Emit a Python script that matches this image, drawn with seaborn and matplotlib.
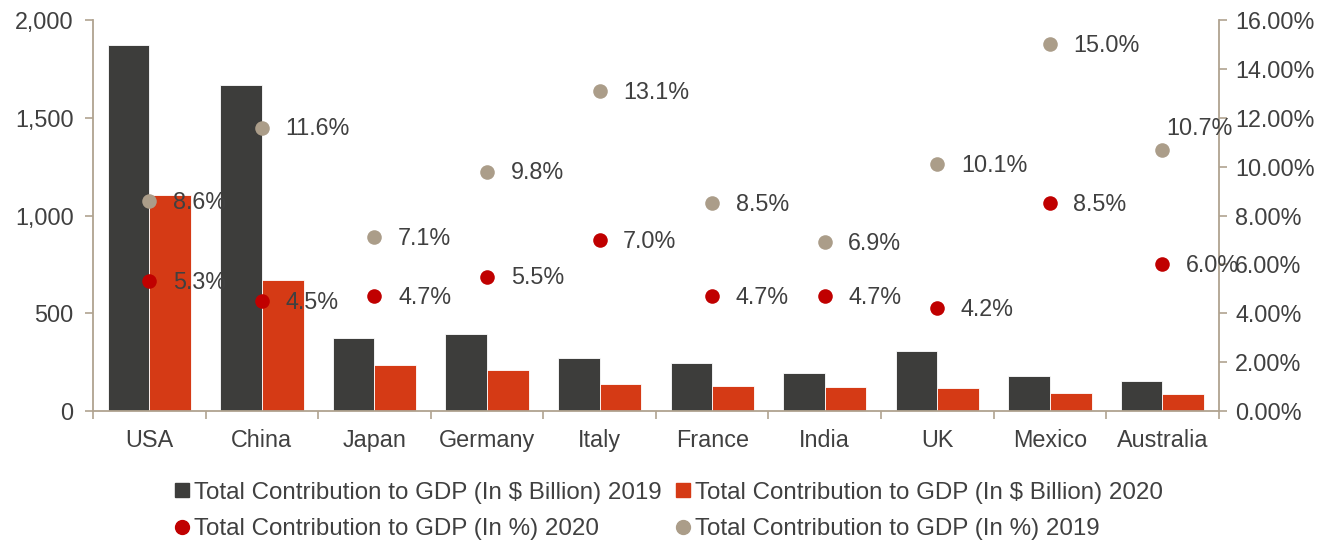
import numpy as np
import pandas as pd
import matplotlib
matplotlib.use("Agg")
import matplotlib.pyplot as plt
from matplotlib.ticker import FuncFormatter, FixedLocator
from matplotlib.lines import Line2D
import seaborn as sns

countries = ["USA", "China", "Japan", "Germany", "Italy", "France", "India", "UK", "Mexico", "Australia"]
gdp_2019 = [1872, 1667, 373, 394, 271, 245, 194, 307, 179, 153]
gdp_2020 = [1105, 670, 235, 210, 138, 128, 121, 118, 92, 87]
pct_2019 = [8.6, 11.6, 7.1, 9.8, 13.1, 8.5, 6.9, 10.1, 15.0, 10.7]
pct_2020 = [5.3, 4.5, 4.7, 5.5, 7.0, 4.7, 4.7, 4.2, 8.5, 6.0]

lab_bar19 = "Total Contribution to GDP (In $ Billion) 2019"
lab_bar20 = "Total Contribution to GDP (In $ Billion) 2020"
lab_pct20 = "Total Contribution to GDP (In %) 2020"
lab_pct19 = "Total Contribution to GDP (In %) 2019"

c_dark = "#3d3d3b"
c_orange = "#d53a15"
c_red = "#c00000"
c_beige = "#ab9d89"
c_text = "#404040"
c_spine = "#b0a390"

sns.set_theme(style="white")
plt.rcParams['font.family'] = ['Liberation Sans', 'DejaVu Sans']

fig = plt.figure(figsize=(13.41, 5.52), dpi=100)
ax = fig.add_axes([0.0694, 0.2554, 0.8394, 0.7084])

bars = pd.DataFrame({
    "country": countries * 2,
    "value": gdp_2019 + gdp_2020,
    "series": [lab_bar19] * len(countries) + [lab_bar20] * len(countries),
})
sns.barplot(data=bars, x="country", y="value", hue="series", order=countries,
            hue_order=[lab_bar19, lab_bar20], palette=[c_dark, c_orange],
            width=0.74, gap=0, edgecolor="white", linewidth=0.6,
            ax=ax, legend=False, saturation=1)

ax.set_ylim(0, 2000)
ax.set_xlim(-0.5, len(countries) - 0.5)
ax.set_yticks([0, 500, 1000, 1500, 2000])
ax.yaxis.set_major_formatter(FuncFormatter(lambda v, p: f"{int(v):,}"))
ax.set_xlabel("")
ax.set_ylabel("")

ax2 = ax.twinx()
pos = np.arange(len(countries))
pts = pd.DataFrame({"pos": pos, "p19": pct_2019, "p20": pct_2020})
sns.scatterplot(data=pts, x="pos", y="p19", color=c_beige, s=110, linewidth=0, ax=ax2, zorder=5)
sns.scatterplot(data=pts, x="pos", y="p20", color=c_red, s=110, linewidth=0, ax=ax2, zorder=5)
ax2.set_ylim(0, 16)
ax2.set_xlim(-0.5, len(countries) - 0.5)
ax2.set_yticks(np.arange(0, 17, 2))
ax2.yaxis.set_major_formatter(FuncFormatter(lambda v, p: f"{v:.2f}%"))
ax2.set_xlabel("")
ax2.set_ylabel("")

fs = 16.8
for i, (a, b) in enumerate(zip(pct_2019, pct_2020)):
    if countries[i] == "Australia":
        ax2.annotate(f"{a:.1f}%", (i, a), xytext=(3, 15), textcoords="offset points",
                     ha="left", va="center", fontsize=fs, color=c_text, zorder=6)
    else:
        ax2.annotate(f"{a:.1f}%", (i, a), xytext=(17, -1), textcoords="offset points",
                     ha="left", va="center", fontsize=fs, color=c_text, zorder=6)
    ax2.annotate(f"{b:.1f}%", (i, b), xytext=(17, -1), textcoords="offset points",
                 ha="left", va="center", fontsize=fs, color=c_text, zorder=6)

for a in (ax, ax2):
    for s in a.spines.values():
        s.set_color(c_spine)
        s.set_linewidth(1.3)
    a.spines["top"].set_visible(False)

ax.spines["right"].set_visible(False)
ax2.spines["left"].set_visible(False)
ax2.spines["bottom"].set_visible(False)

ax.tick_params(axis="y", which="major", direction="out", length=6, width=1.2, color=c_spine,
               labelsize=fs, labelcolor=c_text, left=True, pad=8)
ax2.tick_params(axis="y", which="major", direction="out", length=6, width=1.2, color=c_spine,
                labelsize=fs, labelcolor=c_text, right=True, pad=6)
ax.set_xticks(pos)
ax.set_xticklabels(countries)
ax.tick_params(axis="x", which="major", length=0, labelsize=fs, labelcolor=c_text, pad=13)
ax.xaxis.set_minor_locator(FixedLocator(np.arange(-0.5, len(countries), 1.0)))
ax.tick_params(axis="x", which="minor", direction="out", length=6, width=1.2, color=c_spine, bottom=True)
ax2.tick_params(axis="x", which="both", bottom=False, top=False, labelbottom=False)

handles = [
    Line2D([], [], marker="s", linestyle="none", markersize=10, color=c_dark),
    Line2D([], [], marker="o", linestyle="none", markersize=10, color=c_red),
    Line2D([], [], marker="s", linestyle="none", markersize=10, color=c_orange),
    Line2D([], [], marker="o", linestyle="none", markersize=10, color=c_beige),
]
labels = [lab_bar19, lab_pct20, lab_bar20, lab_pct19]
fig.legend(handles, labels, ncol=2, loc="center", bbox_to_anchor=(0.497, 0.074),
           frameon=False, fontsize=17.4, labelcolor=c_text, handletextpad=0.0,
           columnspacing=0.35, handlelength=1.0, labelspacing=0.6)

fig.savefig("out.png", dpi=100)
